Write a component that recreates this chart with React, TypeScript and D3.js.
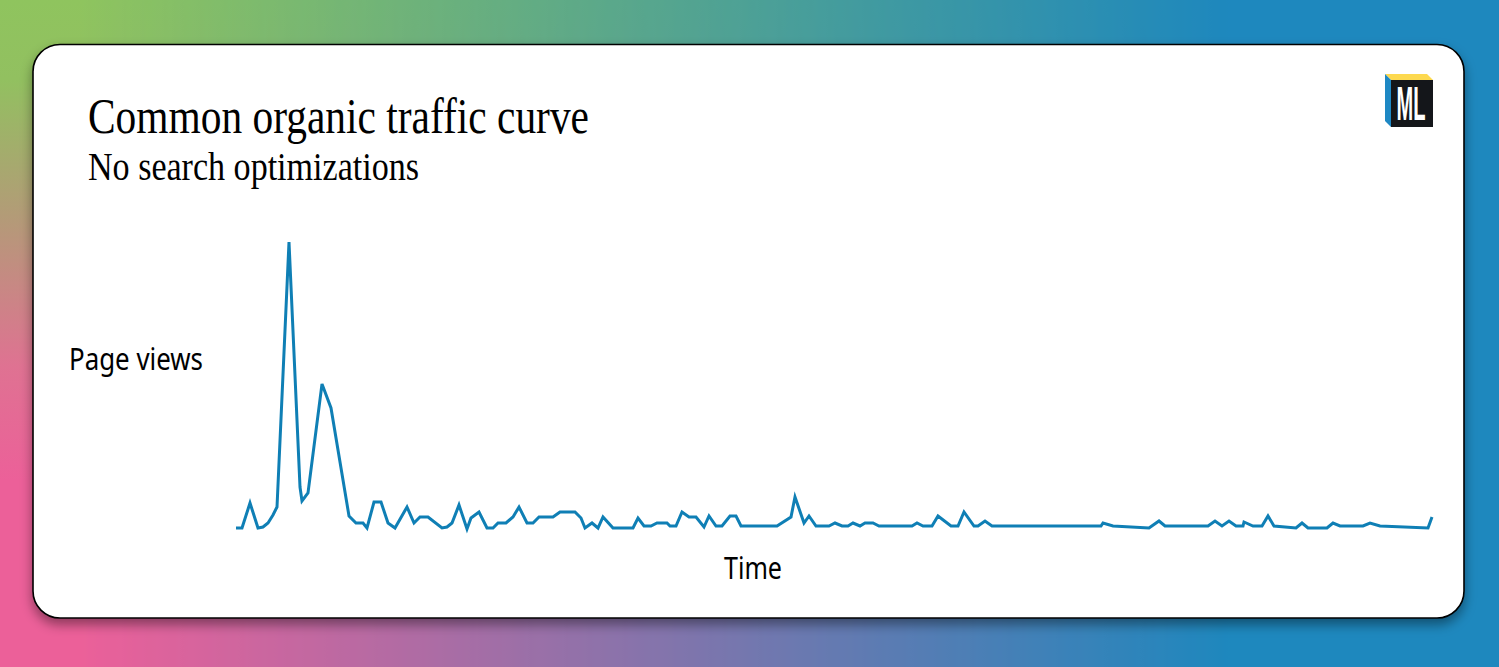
import React from "react";
import * as d3 from "d3";

const title = "Common organic traffic curve";
const subtitle = "No search optimizations";
const yLabel = "Page views";
const xLabel = "Time";

const times = [0,6,14,22,27,32,37,41,53,64,66,72,86,95,113,120,127,131,138,145,152,159,171,178,184,192,206,211,216,223,231,235,243,251,257,262,270,277,283,291,297,303,317,324,339,345,349,356,362,367,377,397,402,408,415,421,431,434,440,446,453,460,468,473,480,486,494,500,505,541,555,559,568,573,580,593,599,606,612,617,624,629,637,643,676,681,687,696,702,715,722,728,738,742,749,756,865,867,877,913,923,929,972,979,986,993,1000,1007,1008,1017,1026,1032,1038,1060,1066,1072,1091,1097,1104,1127,1134,1144,1192,1196];
const views = [1,1,26,1,2,6,14,22,287,42,28,36,145,121,13,6,6,1,27,27,6,1,22,6,12,12,1,2,6,24,0,11,17,1,1,6,6,12,22,6,6,12,12,17,17,11,1,6,1,12,1,1,11,3,3,6,6,3,3,17,12,12,2,13,3,3,13,13,3,3,12,32,6,13,3,3,6,3,3,6,3,6,6,3,3,6,3,3,13,3,3,17,3,3,8,3,3,6,3,1,8,3,3,8,3,8,3,3,7,3,3,13,3,1,6,1,1,6,3,3,6,3,1,12];

const W = 1499;
const H = 667;

export default function App() {
  const x = d3.scaleLinear().domain([0, 1196]).range([236, 1432]);
  const y = d3.scaleLinear().domain([0, 287]).range([529, 242]);
  const line = d3
    .line<number>()
    .x((d) => x(d))
    .y((_, i) => y(views[i]));

  return (
    <svg
      width={W}
      height={H}
      viewBox={`0 0 ${W} ${H}`}
      style={{ position: "fixed", left: 0, top: 0, display: "block" }}
    >
      <defs>
        <linearGradient id="leftColumn" gradientUnits="userSpaceOnUse" x1={0} y1={0} x2={0} y2={H}>
          <stop offset="0" stopColor="#8fc45e" />
          <stop offset="0.12" stopColor="#92c060" />
          <stop offset="0.33" stopColor="#b49a78" />
          <stop offset="0.55" stopColor="#df7292" />
          <stop offset="0.72" stopColor="#ec6099" />
          <stop offset="1" stopColor="#ec6099" />
        </linearGradient>
        <linearGradient id="fade" gradientUnits="userSpaceOnUse" x1={80} y1={0} x2={1230} y2={0}>
          <stop offset="0" stopColor="#fff" />
          <stop offset="1" stopColor="#000" />
        </linearGradient>
        <mask id="fadeMask" maskUnits="userSpaceOnUse" x={0} y={0} width={W} height={H}>
          <rect width={W} height={H} fill="url(#fade)" />
        </mask>
        <filter id="cardShadow" x="-5%" y="-5%" width="110%" height="115%">
          <feDropShadow dx="0" dy="6" stdDeviation="6" floodColor="#000" floodOpacity="0.4" />
        </filter>
      </defs>

      <rect width={W} height={H} fill="#1e88be" />
      <rect width={W} height={H} fill="url(#leftColumn)" mask="url(#fadeMask)" />

      <rect x={33} y={44.5} width={1431} height={573.5} rx={27} fill="#fff" stroke="#000" strokeWidth={1.6} filter="url(#cardShadow)" />

      <text x={88} y={133} fontFamily="Liberation Serif" fontSize={50} textLength={501} lengthAdjust="spacingAndGlyphs" fill="#000">{title}</text>
      <text x={88} y={180} fontFamily="Liberation Serif" fontSize={40} textLength={331} lengthAdjust="spacingAndGlyphs" fill="#000">{subtitle}</text>

      <text x={69} y={370} fontFamily="Noto Sans" fontSize={30} textLength={134} lengthAdjust="spacingAndGlyphs" fill="#000">{yLabel}</text>
      <text x={724} y={579} fontFamily="Noto Sans" fontSize={30} textLength={58} lengthAdjust="spacingAndGlyphs" fill="#000">{xLabel}</text>

      <path d={line(times) ?? ""} fill="none" stroke="#0f7fb5" strokeWidth={3} strokeLinejoin="miter" />

      <g>
        <polygon points="1385,74 1427,74 1433,80 1391,80" fill="#fdd94f" />
        <polygon points="1385,74 1391,80 1391,127 1385,121" fill="#1e88c4" />
        <rect x={1391} y={80} width={42} height={47} fill="#14161a" />
        <text x={1411} y={120} textAnchor="middle" fontFamily="Liberation Sans" fontWeight={700} fontSize={48} textLength={29} lengthAdjust="spacingAndGlyphs" fill="#fff">ML</text>
      </g>
    </svg>
  );
}
